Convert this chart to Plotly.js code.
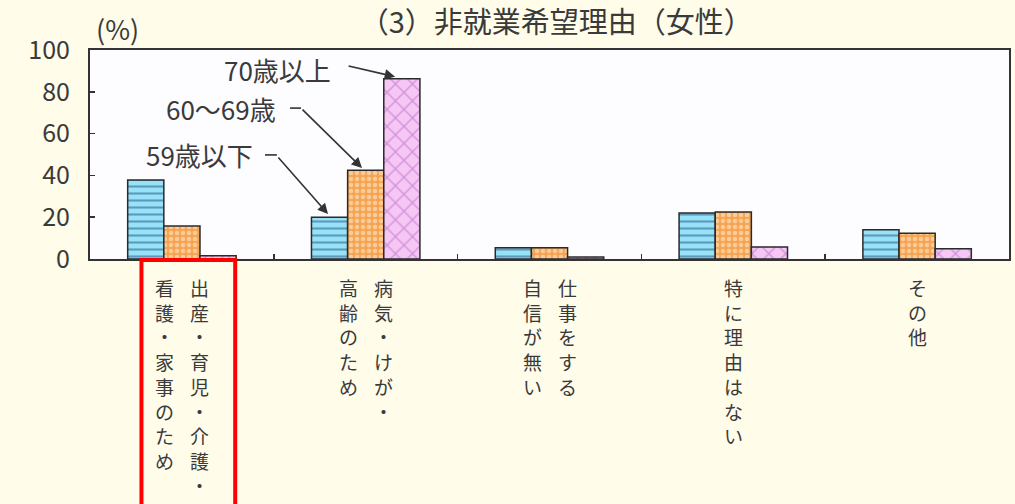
<!DOCTYPE html>
<html>
<head>
<meta charset="utf-8">
<script src="https://cdn.plot.ly/plotly-3.0.1.min.js"></script>
<style>html,body{margin:0;padding:0;background:#fffcea;}#chart{width:1015px;height:504px;}</style>
</head>
<body>
<div id="chart"></div>
<script>
// ---- data ----
const categoryColumns = [
  ["出産・育児・介護・", "看護・家事のため"],
  ["病気・けが・", "高齢のため"],
  ["仕事をする", "自信が無い"],
  ["特に理由はない"],
  ["その他"]
];
const categories = categoryColumns.map(c => c.join(""));
const seriesNames = ["59歳以下", "60～69歳", "70歳以上"];
const under59 = [37.8, 20.0, 5.4, 22.0, 14.0];
const age60to69 = [15.8, 42.5, 5.4, 22.5, 12.3];
const over70 = [1.5, 86.2, 1.0, 5.8, 4.9];
const yTicks = [0, 20, 40, 60, 80, 100];
const titleText = "（3）非就業希望理由（女性）";
const unitLabel = "(%)";

const FONT = '"Noto Sans CJK JP", "Noto Sans", sans-serif';
const TXT = '#3a3a3a';

const styles = [
  {bg: '#98e2f7', fg: '#1d4f86', shape: '-', size: 7, solid: 0.3},
  {bg: '#f6a451', fg: '#fff3df', shape: '.', size: 6, solid: 0.45},
  {bg: '#f6c6f4', fg: '#a85cc0', shape: 'x', size: 12, solid: 0.2}
];
const values = [under59, age60to69, over70];

const traces = values.map((v, i) => ({
  type: 'bar',
  name: seriesNames[i],
  x: categories,
  y: v,
  marker: {
    color: styles[i].bg,
    line: {color: '#2a2a2a', width: 1.5},
    pattern: {shape: styles[i].shape, fgcolor: styles[i].fg, bgcolor: styles[i].bg,
              size: styles[i].size, solidity: styles[i].solid, fillmode: 'overlay'}
  },
  hoverinfo: 'x+y+name'
}));

const annotations = [];
const shapes = [];

// vertical category labels (one column per annotation, columns right-to-left)
categoryColumns.forEach((cols, ci) => {
  const n = cols.length;
  cols.forEach((col, k) => {
    const xs = n === 1 ? 0 : (k === 0 ? 17.5 : -17.5);
    annotations.push({
      xref: 'x', yref: 'y', x: ci, y: 0,
      text: Array.from(col).join('<br>'), showarrow: false,
      xanchor: 'center', yanchor: 'top', align: 'center',
      xshift: xs, yshift: -13,
      font: {family: FONT, size: 19, color: TXT}
    });
  });
});

// unit label
annotations.push({
  xref: 'paper', yref: 'paper', x: 0, y: 1, xshift: 27, yshift: 22,
  text: unitLabel, showarrow: false, xanchor: 'center', yanchor: 'middle',
  font: {family: FONT, size: 27, color: TXT}
});

// series labels with arrows (point at the bars of the 2nd category)
const labelDefs = [
  {name: seriesNames[2], tx: 0.822, ty: 90.5, hx: 1.16, hy: 87.2, ax: -48, ay: -11, seg: null},
  {name: seriesNames[1], tx: 0.523, ty: 72.0, hx: 0.98, hy: 43.5, ax: -61, ay: -60, seg: [0.588, 0.648, 72.2]},
  {name: seriesNames[0], tx: 0.398, ty: 49.8, hx: 0.795, hy: 21.5, ax: -51, ay: -58, seg: [0.452, 0.517, 49.8]}
];
labelDefs.forEach(d => {
  annotations.push({
    xref: 'x', yref: 'y', x: d.tx, y: d.ty, text: d.name, showarrow: false,
    xanchor: 'right', yanchor: 'middle',
    font: {family: FONT, size: 26, color: TXT}
  });
  annotations.push({
    xref: 'x', yref: 'y', x: d.hx, y: d.hy, text: '', showarrow: true,
    ax: d.ax, ay: d.ay, arrowhead: 2, arrowsize: 1.3, arrowwidth: 1.6, arrowcolor: '#333'
  });
  if (d.seg) {
    shapes.push({type: 'line', xref: 'x', yref: 'y', x0: d.seg[0], x1: d.seg[1], y0: d.seg[2], y1: d.seg[2],
                 line: {color: '#333', width: 1.6}});
  }
});

// red highlight box around first category label
shapes.push({type: 'rect', xref: 'x', yref: 'paper', x0: -0.22, x1: 0.29, y0: -1.3, y1: -0.005,
             line: {color: '#ff0000', width: 4}, fillcolor: 'rgba(0,0,0,0)'});

const layout = {
  width: 1015, height: 504,
  margin: {l: 90, r: 6, t: 50, b: 245, pad: 0},
  paper_bgcolor: '#fffcea',
  plot_bgcolor: '#fdfcff',
  showlegend: false,
  barmode: 'group',
  bargap: 0.41,
  bargroupgap: 0,
  title: {
    text: titleText, x: 0.548, xanchor: 'center', y: 0.954, yref: 'container', yanchor: 'middle',
    font: {family: FONT, size: 29, color: TXT}
  },
  xaxis: {
    type: 'category', showticklabels: false,
    ticks: 'inside', tickson: 'boundaries', ticklen: 5, tickcolor: '#333', tickwidth: 1.5,
    showline: true, linecolor: '#333', linewidth: 2, mirror: true,
    showgrid: false, zeroline: false
  },
  yaxis: {
    range: [0, 100], tickvals: yTicks, ticktext: yTicks.map(String),
    ticks: 'inside', ticklen: 5, tickcolor: '#333', tickwidth: 1.5,
    showline: true, linecolor: '#333', linewidth: 2, mirror: true,
    showgrid: false, zeroline: false,
    tickfont: {family: FONT, size: 25, color: TXT},
    ticklabelstandoff: 13
  },
  annotations: annotations,
  shapes: shapes
};

Plotly.newPlot('chart', traces, layout, {staticPlot: true, displayModeBar: false});
</script>
</body>
</html>
